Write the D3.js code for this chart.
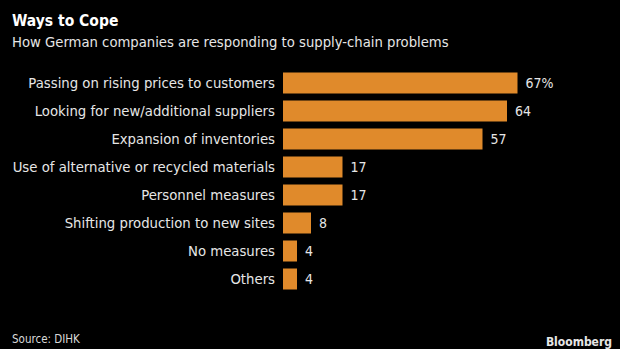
<!DOCTYPE html>
<html>
<head>
<meta charset="utf-8">
<script src="https://cdn.jsdelivr.net/npm/d3@7"></script>
<style>
  html, body { margin: 0; padding: 0; background: #000; }
  svg { display: block; }
  text { font-family: "DejaVu Sans Condensed", "DejaVu Sans", sans-serif; }
</style>
</head>
<body>
<svg id="chart" width="620" height="349"></svg>
<script>
const categories = [
  "Passing on rising prices to customers",
  "Looking for new/additional suppliers",
  "Expansion of inventories",
  "Use of alternative or recycled materials",
  "Personnel measures",
  "Shifting production to new sites",
  "No measures",
  "Others"
];
const values = [67, 64, 57, 17, 17, 8, 4, 4];
const valueLabels = ["67%", "64", "57", "17", "17", "8", "4", "4"];
const title = "Ways to Cope";
const subtitle = "How German companies are responding to supply-chain problems";
const source = "Source: DIHK";

const svg = d3.select("#chart");
svg.append("rect").attr("width", 620).attr("height", 349).attr("fill", "#000");

const x0 = 283;
const x = d3.scaleLinear().domain([0, 100]).range([x0, x0 + 350]);
const y = d3.scaleBand().domain(categories).range([69, 69 + 28 * 8]).paddingInner(0.25).paddingOuter(0.125);

svg.append("text").attr("x", 12).attr("y", 26)
  .attr("fill", "#fff").attr("font-size", 15.5).attr("font-weight", "bold")
  .text(title);
svg.append("text").attr("x", 12).attr("y", 47)
  .attr("fill", "#e6e6e6").attr("font-size", 14.7)
  .text(subtitle);

const g = svg.append("g");
g.selectAll("rect.bar").data(categories).join("rect")
  .attr("class", "bar")
  .attr("x", x(0))
  .attr("y", d => y(d))
  .attr("width", (d, i) => x(values[i]) - x(0))
  .attr("height", y.bandwidth())
  .attr("fill", "#e08a2b");

g.selectAll("text.cat").data(categories).join("text")
  .attr("class", "cat")
  .attr("x", x(0) - 8)
  .attr("y", d => y(d) + y.bandwidth() / 2)
  .attr("dy", "0.36em")
  .attr("text-anchor", "end")
  .attr("fill", "#e6e6e6")
  .attr("font-size", 14.75)
  .text(d => d);

g.selectAll("text.val").data(categories).join("text")
  .attr("class", "val")
  .attr("x", (d, i) => x(values[i]) + 8)
  .attr("y", d => y(d) + y.bandwidth() / 2)
  .attr("dy", "0.36em")
  .attr("fill", "#e6e6e6")
  .attr("font-size", 14)
  .text((d, i) => valueLabels[i]);

svg.append("text").attr("x", 12).attr("y", 343)
  .attr("fill", "#d9d9d9").attr("font-size", 11.5)
  .text(source);
svg.append("text").attr("x", 612).attr("y", 346)
  .attr("text-anchor", "end")
  .attr("fill", "#e6e6e6").attr("font-size", 12).attr("font-weight", "bold")
  .attr("font-family", "Liberation Sans, Arial, sans-serif")
  .text("Bloomberg");
</script>
</body>
</html>
